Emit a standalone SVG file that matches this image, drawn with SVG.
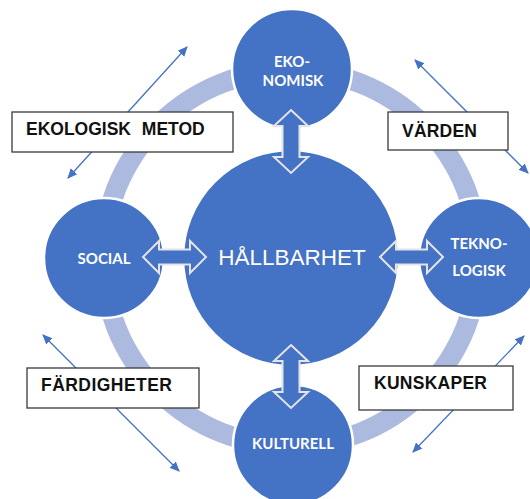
<svg xmlns="http://www.w3.org/2000/svg" width="530" height="499" viewBox="0 0 530 499">
<style>
.node{fill:#4472C4;stroke:#FFFFFF;stroke-width:2.5}
.ring{fill:none;stroke:#ACBADF;stroke-width:20}
.blk{fill:#4472C4;stroke:#E4E4E4;stroke-width:2;stroke-linejoin:miter}
.lbl{font-family:Lato,"Open Sans","Liberation Sans",sans-serif;font-weight:bold;font-size:15px;fill:#FFFFFF;text-anchor:middle}
.big{font-family:"Liberation Sans",Arial,sans-serif;font-size:22.5px;fill:#FFFFFF;text-anchor:middle}
.box{fill:#FFFFFF;stroke:#3A3A3A;stroke-width:1.3}
.btxt{font-family:"Liberation Sans",Arial,sans-serif;font-weight:bold;font-size:17.5px;fill:#111111}
.thin{stroke:#4472C4;stroke-width:1.3;fill:none;marker-start:url(#ah);marker-end:url(#ah)}
</style>
<defs>
<marker id="ah" viewBox="0 0 10 10" refX="9" refY="5" markerWidth="10" markerHeight="10" markerUnits="userSpaceOnUse" orient="auto-start-reverse">
<path d="M0,0.5 L10,5 L0,9.5 Z" fill="#4472C4"/>
</marker>
</defs>
<circle class="ring" cx="291" cy="258" r="188"/>
<g id="connectors">
<line class="thin" x1="187" y1="47" x2="68" y2="178"/>
<line class="thin" x1="415" y1="60" x2="528" y2="173"/>
<line class="thin" x1="43" y1="335" x2="179" y2="471"/>
<line class="thin" x1="524" y1="336" x2="413" y2="452"/>
</g>
<g id="hallbarhet">
<circle class="node" cx="291" cy="258" r="108"/>
<text class="big" x="292" y="265">HÅLLBARHET</text>
</g>
<g id="ekonomisk">
<circle class="node" cx="292" cy="69" r="60"/>
<text class="lbl" x="292" y="67">EKO-</text>
<text class="lbl" x="293" y="86">NOMISK</text>
</g>
<g id="social">
<circle class="node" cx="104" cy="258" r="60"/>
<text class="lbl" x="104" y="264">SOCIAL</text>
</g>
<g id="teknologisk">
<circle class="node" cx="479" cy="258" r="60"/>
<text class="lbl" x="479" y="249">TEKNO-</text>
<text class="lbl" x="479" y="276">LOGISK</text>
</g>
<g id="kulturell">
<circle class="node" cx="293" cy="445" r="60"/>
<text class="lbl" x="293" y="449">KULTURELL</text>
</g>
<g id="block-arrows">
<path class="blk" d="M291,110 L308,126 L299.5,126 L299.5,157 L308,157 L291,173 L274,157 L282.5,157 L282.5,126 L274,126 Z"/>
<path class="blk" d="M291,345 L308,361 L299.5,361 L299.5,392 L308,392 L291,408 L274,392 L282.5,392 L282.5,361 L274,361 Z"/>
<path class="blk" d="M143,257 L159,241 L159,249.5 L190,249.5 L190,241 L206,257 L190,273 L190,264.5 L159,264.5 L159,273 Z"/>
<path class="blk" d="M380,257 L396,241 L396,249.5 L427,249.5 L427,241 L443,257 L427,273 L427,264.5 L396,264.5 L396,273 Z"/>
</g>
<g id="ekologisk-metod">
<rect class="box" x="12" y="112" width="221" height="40"/>
<text class="btxt" x="26" y="135" word-spacing="6">EKOLOGISK METOD</text>
</g>
<g id="varden">
<rect class="box" x="388" y="112" width="120" height="38"/>
<text class="btxt" x="402" y="137" textLength="75" lengthAdjust="spacing">VÄRDEN</text>
</g>
<g id="fardigheter">
<rect class="box" x="27" y="368" width="172" height="40"/>
<text class="btxt" x="41" y="391" textLength="131" lengthAdjust="spacing">FÄRDIGHETER</text>
</g>
<g id="kunskaper">
<rect class="box" x="359" y="366" width="154" height="44"/>
<text class="btxt" x="374" y="389" textLength="113" lengthAdjust="spacing">KUNSKAPER</text>
</g>
</svg>
